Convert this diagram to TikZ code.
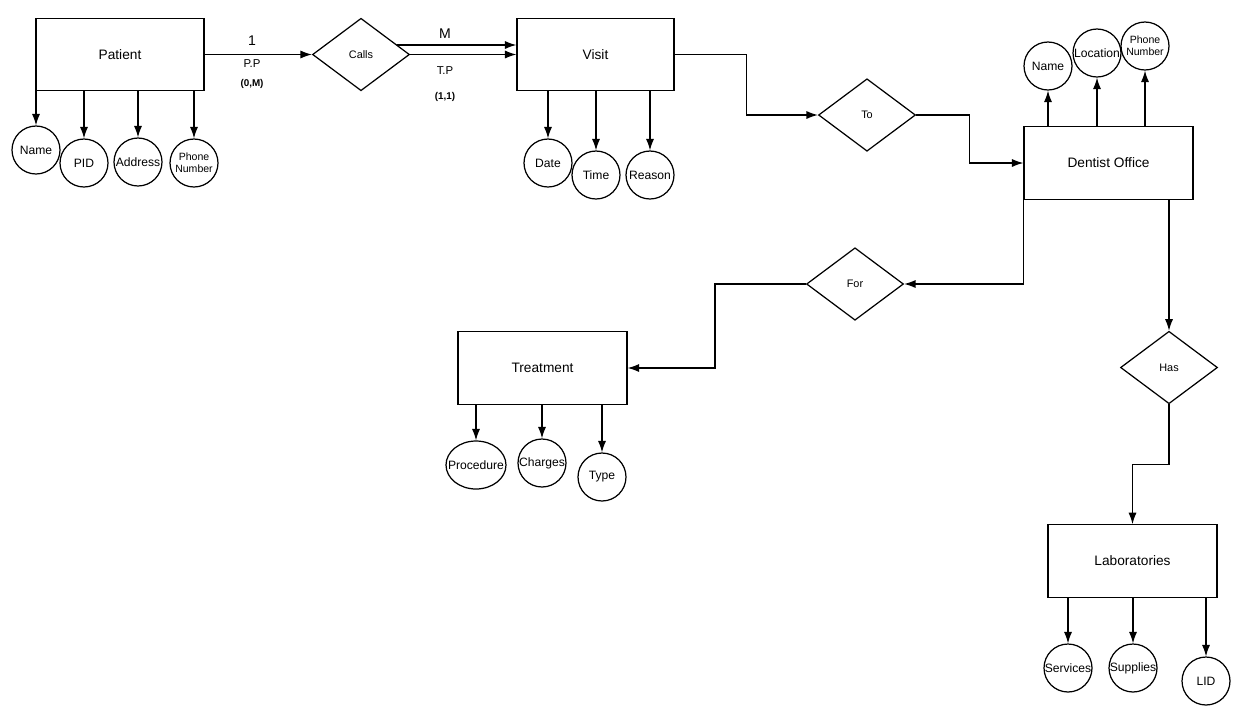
\documentclass[tikz,border=0pt]{standalone}
\usepackage{fontspec}
\setmainfont{Liberation Sans}
\usetikzlibrary{arrows.meta, positioning, shapes.geometric, calc}

\begin{document}
\begin{tikzpicture}[
  x=0.02cm, y=-0.02cm,
  >={Latex[length=6.5pt,width=4.6pt]},
  flow/.style={->, line width=0.7pt, draw=black},
  entity/.style={draw=black, line width=0.7pt, minimum width=3.38cm, minimum height=1.45cm, font=\fontsize{7.8}{9.4}\selectfont},
  rel/.style={diamond, draw=black, line width=0.7pt, inner sep=0pt, minimum width=1.94cm, minimum height=1.45cm, font=\fontsize{6.2}{7.4}\selectfont},
  attr/.style={circle, draw=black, line width=0.7pt, inner sep=0pt, minimum size=0.96cm, align=center, font=\fontsize{6.9}{8.2}\selectfont},
  attrsmall/.style={attr, font=\fontsize{6}{7}\selectfont},
  card/.style={font=\fontsize{8}{9.6}\selectfont},
  role/.style={font=\fontsize{6.5}{7.8}\selectfont},
  bound/.style={font=\fontsize{5.6}{6.7}\selectfont\bfseries}
]
  \useasboundingbox (0,0) rectangle (1247,711);

  % Entities
  \node[entity, minimum width=3.36cm] (patient) at (120,54.5) {Patient};
  \node[entity, minimum width=3.14cm] (visit) at (595.5,54.5) {Visit};
  \node[entity] (dentist) at (1108.5,163) {Dentist Office};
  \node[entity] (treatment) at (542.5,368) {Treatment};
  \node[entity] (labs) at (1132.5,561) {Laboratories};

  % Relationships
  \node[rel] (calls) at (361,54.5) {Calls};
  \node[rel] (toRel) at (867,115) {To};
  \node[rel] (forRel) at (855,284) {For};
  \node[rel] (hasRel) at (1169,367.5) {Has};

  % Patient attributes
  \node[attr] (pName) at (36,150) {Name};
  \node[attr] (pID) at (84,163) {PID};
  \node[attr] (pAddress) at (138,162) {Address};
  \node[attrsmall] (pPhone) at (194,163) {Phone\\Number};

  % Visit attributes
  \node[attr] (vDate) at (548,163) {Date};
  \node[attr] (vTime) at (596,175) {Time};
  \node[attr] (vReason) at (650,175) {Reason};

  % Dentist Office attributes
  \node[attr] (dName) at (1048,66) {Name};
  \node[attr] (dLocation) at (1097,53) {Location};
  \node[attrsmall] (dPhone) at (1145,46) {Phone\\Number};

  % Treatment attributes
  \node[attr, ellipse, inner xsep=-7pt, minimum width=1.2cm, minimum height=0.96cm] (tProcedure) at (476,465) {Procedure};
  \node[attr] (tCharges) at (542,463) {Charges};
  \node[attr] (tType) at (602,477) {Type};

  % Laboratories attributes
  \node[attr] (lServices) at (1068,668) {Services};
  \node[attr] (lSupplies) at (1133,668) {Supplies};
  \node[attr] (lID) at (1206,681) {LID};

  % Cardinality labels
  \node[card] (cardOne) at (252,41) {1};
  \node[role] (rolePP) at (252,64) {P.P};
  \node[bound] (boundPP) at (252,84) {(0,M)};
  \node[card] (cardM) at (445,34) {M};
  \node[role] (roleTP) at (445,71) {T.P};
  \node[bound] (boundTP) at (445,97) {(1,1)};

  % Connectors
  \draw[flow] (patient.east) -- (calls.west);
  \coordinate (callsUp) at (397,45);
  \draw[flow] (callsUp) -- (callsUp -| visit.west);
  \draw[flow] (calls.east) -- (visit.west);
  \draw[flow] (visit.east) -- ++(72,0) |- (toRel.west);
  \draw[flow] (toRel.east) -- ++(53,0) |- (dentist.west);
  \draw[flow] (dentist.south west) |- (forRel.east);
  \draw[flow] (forRel.west) -- ++(-91,0) |- (treatment.east);
  \draw[flow] (hasRel |- dentist.south) -- (hasRel.north);
  \draw[flow] (hasRel.south) -- ++(0,60) -| (labs.north);

  \foreach \a in {pName,pID,pAddress,pPhone} {
    \draw[flow] (\a |- patient.south) -- (\a.north);
  }
  \foreach \a in {vDate,vTime,vReason} {
    \draw[flow] (\a |- visit.south) -- (\a.north);
  }
  \foreach \a in {dName,dLocation,dPhone} {
    \draw[flow] (\a |- dentist.north) -- (\a.south);
  }
  \foreach \a in {tProcedure,tCharges,tType} {
    \draw[flow] (\a |- treatment.south) -- (\a.north);
  }
  \foreach \a in {lServices,lSupplies,lID} {
    \draw[flow] (\a |- labs.south) -- (\a.north);
  }
\end{tikzpicture}
\end{document}
